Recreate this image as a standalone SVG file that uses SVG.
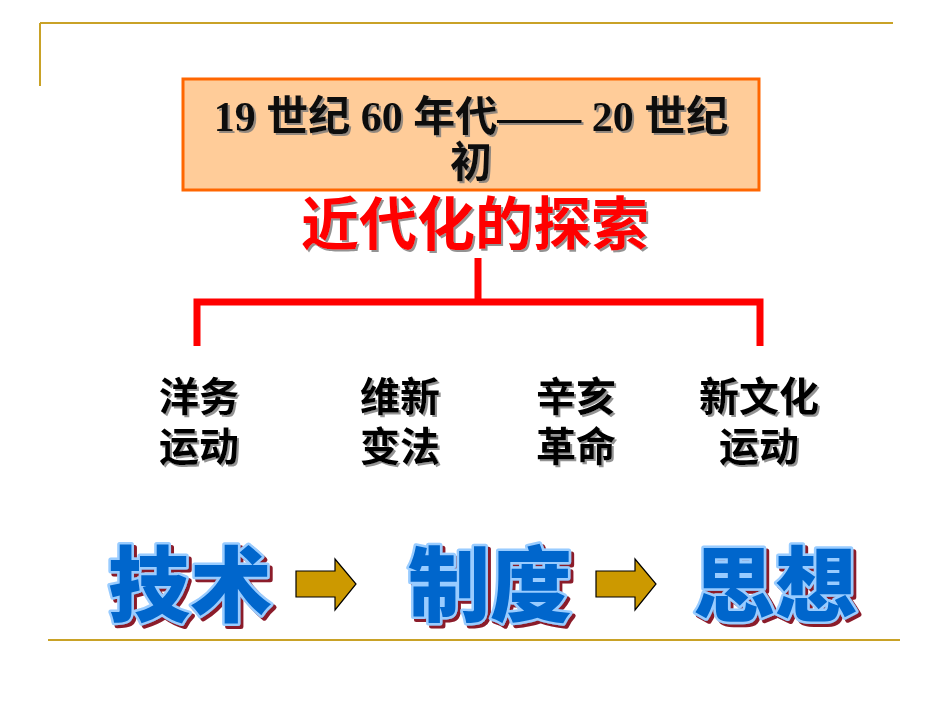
<svg xmlns="http://www.w3.org/2000/svg" width="950" height="713" viewBox="0 0 950 713">
<defs>
<filter id="sh" x="-10%" y="-10%" width="130%" height="140%"><feDropShadow dx="2" dy="2" stdDeviation="0.6" flood-color="#777" flood-opacity="0.8"/></filter>
<filter id="shr" x="-10%" y="-10%" width="130%" height="140%"><feDropShadow dx="3" dy="3" stdDeviation="0" flood-color="#8B1A2B"/></filter>
</defs>
<style>
.rule{stroke:#C9A227;stroke-width:2;fill:none}
.box{fill:#FFCC99;stroke:#FF6600;stroke-width:3}
.date{font-family:"Liberation Serif","Noto Sans CJK SC",serif;font-weight:bold;font-size:42px;fill:#111;text-anchor:middle}
.title{font-family:"Liberation Sans","Noto Sans CJK SC",sans-serif;font-weight:bold;font-size:58px;fill:#FF0000;text-anchor:middle}
.lab{font-family:"Liberation Sans","Noto Sans CJK SC",sans-serif;font-weight:bold;font-size:40px;fill:#000;text-anchor:middle}
.big{font-family:"Liberation Sans","Noto Sans CJK SC",sans-serif;font-weight:900;font-size:82px;fill:#0066CC;stroke:#99CCFF;stroke-width:5;paint-order:stroke;stroke-linejoin:round;text-anchor:middle}
.conn{stroke:#FF0000;stroke-width:7;fill:none}
.arr{fill:#CC9900;stroke:#000;stroke-width:1.2}
</style>
<g id="frame">
<line class="rule" x1="40" y1="23" x2="893" y2="23"/>
<line class="rule" x1="40" y1="23" x2="40" y2="86"/>
<line class="rule" x1="48" y1="640" x2="900" y2="640"/>
</g>
<g id="period">
<rect class="box" x="183" y="79" width="576" height="111"/>
<text class="date" x="471" y="131" filter="url(#sh)">19 世纪 60 年代—— 20 世纪</text>
<text class="date" x="471" y="177" filter="url(#sh)">初</text>
</g>
<g id="title">
<text class="title" x="475" y="245" filter="url(#sh)">近代化的探索</text>
</g>
<g id="connectors">
<polyline class="conn" points="478,258 478,302"/>
<polyline class="conn" points="197,346 197,302 760,302 760,346"/>
<path class="arr" d="M296,571 H335 V559 L356,584 L335,610 V597 H296 Z"/>
<path class="arr" d="M596,571 H635 V559 L656,584 L635,610 V597 H596 Z"/>
</g>
<g id="yangwu"><text class="lab" x="199" y="411" filter="url(#sh)">洋务</text><text class="lab" x="199" y="461" filter="url(#sh)">运动</text></g>
<g id="weixin"><text class="lab" x="400" y="411" filter="url(#sh)">维新</text><text class="lab" x="400" y="461" filter="url(#sh)">变法</text></g>
<g id="xinhai"><text class="lab" x="576" y="411" filter="url(#sh)">辛亥</text><text class="lab" x="576" y="461" filter="url(#sh)">革命</text></g>
<g id="xinwenhua"><text class="lab" x="759" y="411" filter="url(#sh)">新文化</text><text class="lab" x="759" y="461" filter="url(#sh)">运动</text></g>
<g id="jishu"><text class="big" x="190" y="615" filter="url(#shr)">技术</text></g>
<g id="zhidu"><text class="big" x="490" y="615" filter="url(#shr)">制度</text></g>
<g id="sixiang"><text class="big" x="775" y="615" filter="url(#shr)">思想</text></g>
</svg>
